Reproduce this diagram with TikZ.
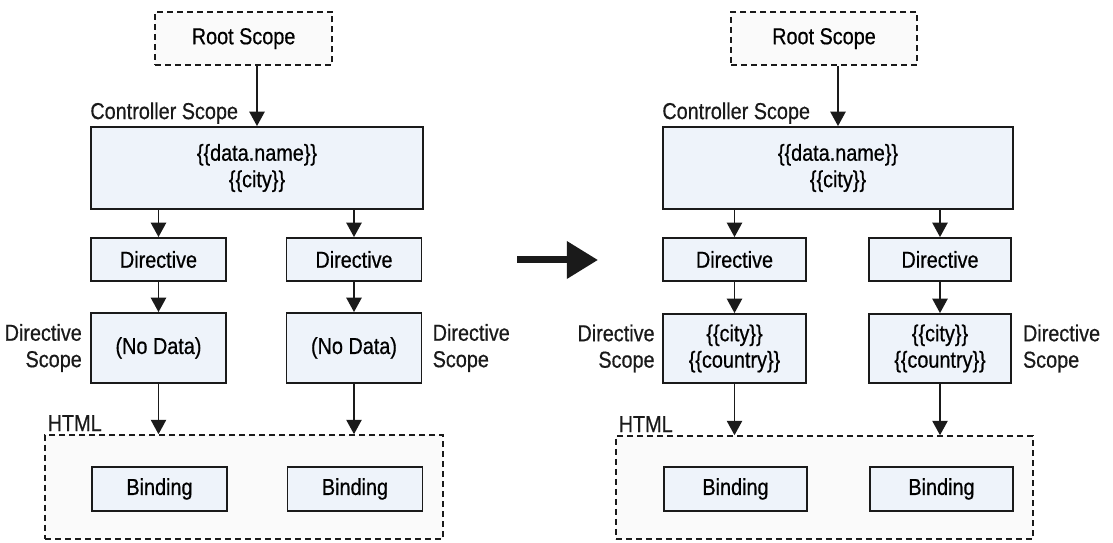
\documentclass[tikz,border=0pt]{standalone}
\usepackage{fontspec}
\setmainfont{Liberation Sans}[FakeStretch=0.86, FakeBold=0.6]
\usepackage{xcolor}
\usepackage{tikz}
\usetikzlibrary{arrows.meta,positioning,calc}

\definecolor{boxfill}{HTML}{EEF3FA}
\definecolor{dashfill}{HTML}{FAFAFA}
\definecolor{ink}{HTML}{1A1A1A}

\begin{document}
\begin{tikzpicture}[
  font=\fontsize{16.4}{18.8}\selectfont,
  scopebox/.style = {rectangle, draw=ink, line width=1.3pt, fill=boxfill,
                     inner sep=0pt, align=center},
  dashbox/.style  = {rectangle, draw=ink, line width=1.1pt, fill=dashfill,
                     dash pattern=on 0.15cm off 0.1cm, inner sep=0pt, align=center},
  lbl/.style      = {inner sep=0pt, text=ink},
  arr/.style      = {-{Triangle[length=0.36cm, width=0.38cm]}, line width=1.3pt, ink}
]
\useasboundingbox (0,0) rectangle (27.825,13.575);

%% Left: before
\node[dashbox, minimum width=4.43cm, minimum height=1.33cm] (rootL) at (6.09, 12.61) {Root Scope};
\node[scopebox, minimum width=8.3cm, minimum height=2.05cm] (ctrlL) at (6.425, 9.375) {\{\{data.name\}\}\\\{\{city\}\}};
\node[scopebox, minimum width=3.375cm, minimum height=1.075cm] (dirA) at (3.9625, 7.0875) {Directive};
\node[scopebox, minimum width=3.375cm, minimum height=1.075cm] (dirB) at (8.85, 7.0875) {Directive};
\node[scopebox, minimum width=3.375cm, minimum height=1.75cm] (scpA) at (3.9625, 4.875) {(No Data)};
\node[scopebox, minimum width=3.375cm, minimum height=1.75cm] (scpB) at (8.85, 4.875) {(No Data)};
\node[dashbox, minimum width=9.95cm, minimum height=2.6cm] (htmlL) at (6.1, 1.4) {};
\node[scopebox, minimum width=3.375cm, minimum height=1.1cm] (bndA) at (3.9875, 1.35) {Binding};
\node[scopebox, minimum width=3.375cm, minimum height=1.1cm] (bndB) at (8.875, 1.35) {Binding};

%% Left labels
\node[lbl, anchor=base west] at ([yshift=0.175cm]ctrlL.north west) {Controller Scope};
\node[lbl, anchor=base west] at ([xshift=0.08cm, yshift=0.08cm]htmlL.north west) {HTML};
\node[lbl, anchor=east, align=right] at ([xshift=-0.2cm]scpA.west) {Directive\\Scope};
\node[lbl, anchor=west, align=left] at ([xshift=0.25cm]scpB.east) {Directive\\Scope};

%% Right: after
\node[dashbox, minimum width=4.65cm, minimum height=1.33cm] (rootR) at (20.6, 12.61) {Root Scope};
\node[scopebox, minimum width=8.75cm, minimum height=2.05cm] (ctrlR) at (20.95, 9.375) {\{\{data.name\}\}\\\{\{city\}\}};
\node[scopebox, minimum width=3.575cm, minimum height=1.075cm] (dirC) at (18.3625, 7.0875) {Directive};
\node[scopebox, minimum width=3.55cm, minimum height=1.075cm] (dirD) at (23.5, 7.0875) {Directive};
\node[scopebox, minimum width=3.575cm, minimum height=1.725cm] (scpC) at (18.3625, 4.8625) {\{\{city\}\}\\\{\{country\}\}};
\node[scopebox, minimum width=3.55cm, minimum height=1.725cm] (scpD) at (23.5, 4.8625) {\{\{city\}\}\\\{\{country\}\}};
\node[dashbox, minimum width=10.425cm, minimum height=2.575cm] (htmlR) at (20.6125, 1.3875) {};
\node[scopebox, minimum width=3.575cm, minimum height=1.1cm] (bndC) at (18.3875, 1.35) {Binding};
\node[scopebox, minimum width=3.575cm, minimum height=1.1cm] (bndD) at (23.5375, 1.35) {Binding};

%% Right labels
\node[lbl, anchor=base west] at ([yshift=0.175cm]ctrlR.north west) {Controller Scope};
\node[lbl, anchor=base west] at ([xshift=0.08cm, yshift=0.08cm]htmlR.north west) {HTML};
\node[lbl, anchor=east, align=right] at ([xshift=-0.18cm]scpC.west) {Directive\\Scope};
\node[lbl, anchor=west, align=left] at ([xshift=0.27cm]scpD.east) {Directive\\Scope};

%% Big arrow between the two
\coordinate (bigL) at (12.925, 7.075);
\coordinate (bigR) at (14.95, 7.075);
\draw[ink, line width=0.175cm, -{Triangle[length=0.78cm, width=0.9cm]}] (bigL) -- (bigR);

%% Left arrows
\draw[arr] (ctrlL.north |- rootL.south) -- (ctrlL.north);
\draw[arr] (dirA.north |- ctrlL.south) -- (dirA.north);
\draw[arr] (dirB.north |- ctrlL.south) -- (dirB.north);
\draw[arr] (dirA) -- (scpA);
\draw[arr] (dirB) -- (scpB);
\draw[arr] (scpA.south) -- (scpA.south |- htmlL.north);
\draw[arr] (scpB.south) -- (scpB.south |- htmlL.north);

%% Right arrows
\draw[arr] (ctrlR.north |- rootR.south) -- (ctrlR.north);
\draw[arr] (dirC.north |- ctrlR.south) -- (dirC.north);
\draw[arr] (dirD.north |- ctrlR.south) -- (dirD.north);
\draw[arr] (dirC) -- (scpC);
\draw[arr] (dirD) -- (scpD);
\draw[arr] (scpC.south) -- (scpC.south |- htmlR.north);
\draw[arr] (scpD.south) -- (scpD.south |- htmlR.north);
\end{tikzpicture}
\end{document}
